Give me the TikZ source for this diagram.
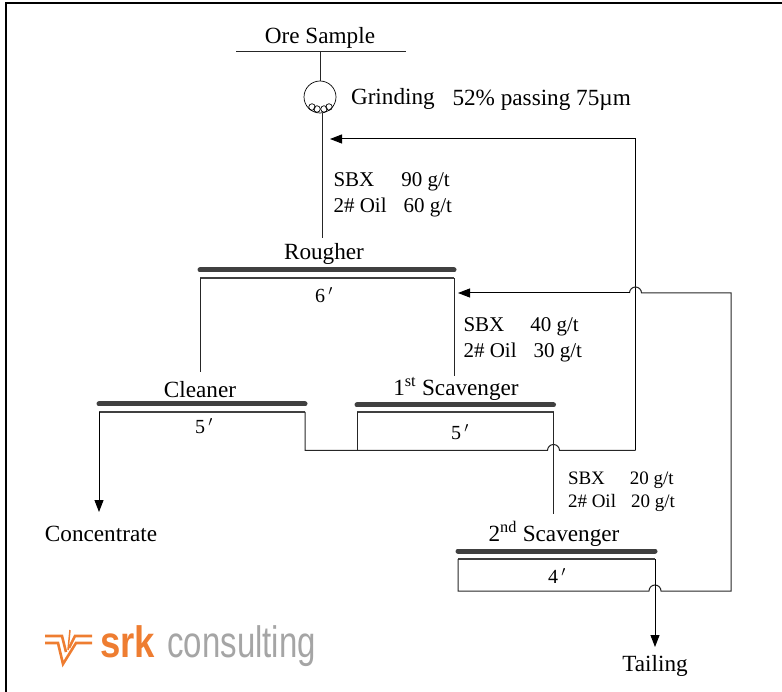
\documentclass[tikz,border=0pt]{standalone}
\usepackage{fontspec}
\setmainfont{Liberation Serif}
\newfontfamily\logofont{Liberation Sans}
\usetikzlibrary{arrows.meta,positioning,calc}
\definecolor{srkorange}{RGB}{238,125,49}
\definecolor{srkgray}{RGB}{165,165,165}

\begin{document}
\begin{tikzpicture}[
    x=1pt,
    y=-1pt,
    line width=1pt,
    label/.style={inner sep=0pt, font=\fontsize{23.2}{26}\selectfont},
    dose/.style={inner sep=0pt, align=left, anchor=west, font=\fontsize{21}{26}\selectfont},
    dosesmall/.style={inner sep=0pt, align=left, anchor=west, font=\fontsize{19}{23}\selectfont},
    size/.style={inner sep=0pt, font=\fontsize{20}{22}\selectfont},
    pipe/.style={draw=black!85},
    flow/.style={draw=black, -{Triangle[length=12pt,width=9pt]}},
    topbar/.style={draw=black!75, line width=5pt, line cap=round},
    lowbar/.style={draw=black!75, line width=2.6pt},
]
\useasboundingbox (0,0) rectangle (782,692);

% page frame
\draw[black, line width=2.2pt] (6,692) -- (6,3) -- (782,3);

% feed and mill
\coordinate (feedL) at (236,52);
\coordinate (feedR) at (406,52);
\coordinate (feedC) at (320,52);
\draw[pipe] (feedL) -- (feedR);
\node[label] (ore) at (320,38) {Ore Sample};
\node[circle, draw=black, line width=0.7pt, minimum size=32pt, inner sep=0pt] (mill) at (320,97) {};
\foreach \bx/\by/\bn in {312/107/b1, 317/109/b2, 324/109/b3, 329/107/b4}
    \node[circle, draw=black, line width=0.7pt, minimum size=6.5pt, inner sep=0pt] (\bn) at (\bx,\by) {};
\node[label, anchor=west] (grind) at (350.5,99) {Grinding};
\node[label, anchor=west] (pass) at (452,100) {52\% passing 75µm};

% cells
\coordinate (roTL) at (200,270);
\coordinate (roTR) at (454,270);
\coordinate (roBL) at (200,278);
\coordinate (roBR) at (454,278);
\coordinate (clTL) at (99,404);
\coordinate (clTR) at (305,404);
\coordinate (clBL) at (99,412);
\coordinate (clBR) at (305,412);
\coordinate (s1TL) at (357,405);
\coordinate (s1TR) at (553.5,405);
\coordinate (s1BL) at (357,412);
\coordinate (s1BR) at (553.5,412);
\coordinate (s2TL) at (458,551);
\coordinate (s2TR) at (655,551);
\coordinate (s2BL) at (458,559);
\coordinate (s2BR) at (655,559);
\foreach \cell in {ro,cl,s1,s2} {
    \draw[topbar] (\cell TL) -- (\cell TR);
    \draw[lowbar] (\cell BL) -- (\cell BR);
}

\node[label] (rougher) at (324,254) {Rougher};
\node[label] (cleaner) at (200,390) {Cleaner};
\node[label] (scav1) at (456,389) {1\textsuperscript{st} Scavenger};
\node[label] (scav2) at (554,534) {2\textsuperscript{nd} Scavenger};
\node[size] (t1) at (324,295) {6\,$'$};
\node[size] (t2) at (204,426) {5\,$'$};
\node[size] (t3) at (460,432) {5\,$'$};
\node[size] (t4) at (557,576) {4\,$'$};

% reagents
\node[dose] (r1) at (333,195) {SBX\hspace{27pt}90 g/t\\2\# Oil\hspace{17pt}60 g/t};
\node[dose] (r2) at (463,340) {SBX\hspace{26pt}40 g/t\\2\# Oil\hspace{17pt}30 g/t};
\node[dosesmall] (r3) at (567.5,492) {SBX\hspace{25pt}20 g/t\\2\# Oil\hspace{15pt}20 g/t};

% products
\node[label] (conc) at (101,534) {Concentrate};
\node[label] (tail) at (655,666) {Tailing};
\coordinate (concTop) at (99,512);
\coordinate (recy1) at (330,139);
\coordinate (recy2) at (458,293);

% feed line
\draw[pipe] (feedC) -- (mill);
\draw[pipe] (322,113) -- (322,238);
\draw[pipe] (roBL) -- (200,372);
\draw[pipe] (roBR) -- (454,376);

% cell tails
\draw[flow] (clBL) -- (concTop);
\draw[pipe] (clBR) -- (305,450.5) -- (547.5,450.5) arc[start angle=180, end angle=0, radius=6pt] -- (635.5,450.5);
\draw[pipe] (s1BL) -- (357,450.5);
\draw[pipe] (s1BR) -- (553.5,514);

% cleaner tail back to mill
\draw[flow] (635.5,450.5) -- (635.5,139) -- (recy1);

% second scavenger
\draw[pipe] (s2BL) -- (458,591) -- (649,591) arc[start angle=180, end angle=0, radius=6pt] -- (731,591) -- (731,293) -- (641.5,293) arc[start angle=0, end angle=180, radius=6pt];
\draw[flow] (629.5,293) -- (recy2);
\draw[flow] (s2BR) -- (655,647);

% logo
\draw[srkorange, line width=2.6pt] (45,636) -- (62,636) -- (66,652);
\draw[srkorange, line width=2.6pt] (45,643) -- (58,643) -- (63,664) -- (76,643) -- (92,643);
\draw[srkorange, line width=2.6pt] (92,636) -- (75,636) -- (69,648);
\draw[srkorange, line width=1.5pt] (70,630) -- (68,650);
\node[inner sep=0pt, anchor=base west, text=srkorange, xscale=0.83, font=\logofont\bfseries\fontsize{44}{46}\selectfont] (srk) at (100,657) {srk};
\node[inner sep=0pt, anchor=base west, text=srkgray, xscale=0.75, font=\logofont\fontsize{44}{46}\selectfont] (consulting) at (167,657) {consulting};

\end{tikzpicture}
\end{document}
